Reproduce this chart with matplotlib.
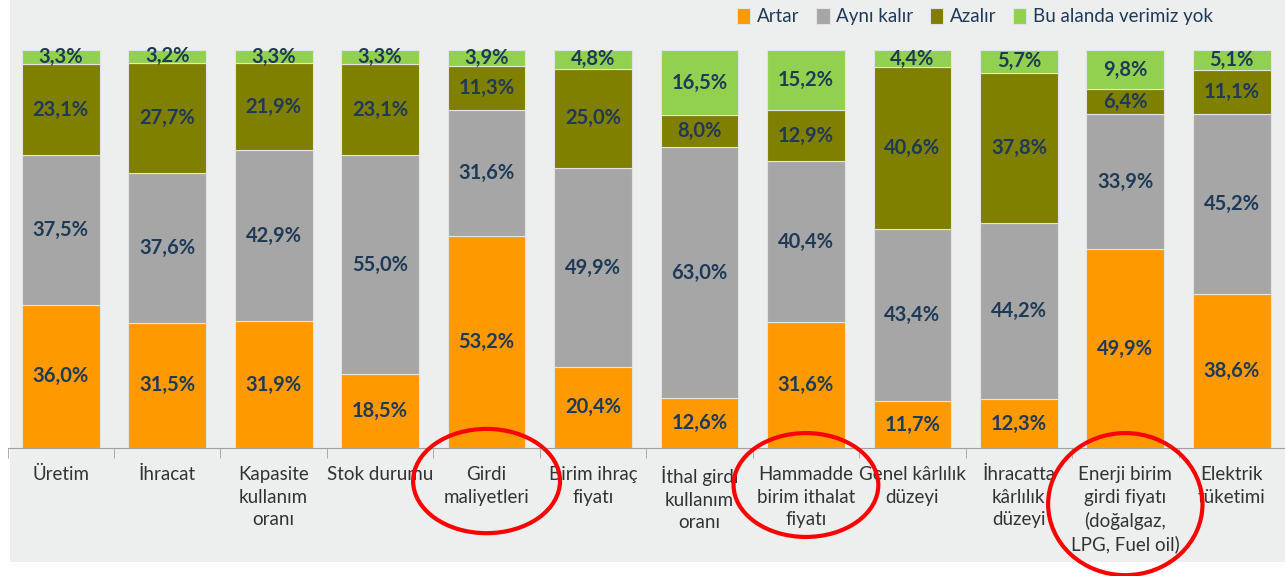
import numpy as np
import matplotlib.pyplot as plt
from matplotlib.patches import Ellipse, Rectangle

plt.rcParams['font.family'] = ['Lato', 'DejaVu Sans']

# categories and shares (%)
categories = ['Üretim', 'İhracat', 'Kapasite\nkullanım\noranı', 'Stok durumu',
              'Girdi\nmaliyetleri', 'Birim ihraç\nfiyatı', 'İthal girdi\nkullanım\noranı',
              'Hammadde\nbirim ithalat\nfiyatı', 'Genel kârlılık\ndüzeyi',
              'İhracatta\nkârlılık\ndüzeyi',
              'Enerji birim\ngirdi fiyatı\n(doğalgaz,\nLPG, Fuel oil)', 'Elektrik\ntüketimi']
artar = [36.0, 31.5, 31.9, 18.5, 53.2, 20.4, 12.6, 31.6, 11.7, 12.3, 49.9, 38.6]
ayni = [37.5, 37.6, 42.9, 55.0, 31.6, 49.9, 63.0, 40.4, 43.4, 44.2, 33.9, 45.2]
azalir = [23.1, 27.7, 21.9, 23.1, 11.3, 25.0, 8.0, 12.9, 40.6, 37.8, 6.4, 11.1]
veri_yok = [3.3, 3.2, 3.3, 3.3, 3.9, 4.8, 16.5, 15.2, 4.4, 5.7, 9.8, 5.1]

series = [('Artar', artar, '#FF9900'),
          ('Aynı kalır', ayni, '#A6A6A6'),
          ('Azalır', azalir, '#7F7F00'),
          ('Bu alanda verimiz yok', veri_yok, '#92D050')]

# categories to circle in red: (index, y-centre, width, height)
highlights = [(4, -8.3, 1.38, 26.2), (7, -9.3, 1.36, 26.1), (10, -14.1, 1.45, 35.7)]

txt_col = '#1F3A56'
bg = '#EDEEEE'

fig = plt.figure(figsize=(12.85, 5.76), dpi=100)
fig.patch.set_facecolor('white')
fig.add_artist(Rectangle((10 / 1285, 14 / 576), 1, 1, transform=fig.transFigure,
                         facecolor=bg, edgecolor='none', zorder=0))

ax = fig.add_axes([7.5 / 1285, 128 / 576, 1277.5 / 1285, 398 / 576])
ax.set_facecolor('none')

x = np.arange(len(categories))
bottom = np.zeros(len(categories))
handles = []
for name, vals, col in series:
    bars = ax.bar(x, vals, 0.73, bottom=bottom, color=col, edgecolor='#E2E4E4',
                  linewidth=0.8, label=name)
    ax.bar_label(bars, labels=[f'{v:.1f}%'.replace('.', ',') for v in vals],
                 label_type='center', color=txt_col, fontsize=14.5, fontweight='bold')
    bottom += np.array(vals)
    handles.append(bars)

ax.set_xlim(-0.5, 11.45)
ax.set_ylim(0, 100)
ax.set_yticks([])
for s in ['top', 'right', 'left']:
    ax.spines[s].set_visible(False)
ax.spines['bottom'].set_color('#A0A0A0')

ax.set_xticks(x, categories, fontsize=13.5, color='#333333', linespacing=1.4)
ax.tick_params(axis='x', which='major', length=0, pad=13)
ax.set_xticks(np.arange(-0.5, 12, 1), minor=True)
ax.tick_params(axis='x', which='minor', length=7, color='#A0A0A0', direction='out')

for i, yc, w, h in highlights:
    ax.add_patch(Ellipse((i, yc), w, h, fill=False, edgecolor='#FF0000', lw=3,
                         clip_on=False, zorder=5))

leg = fig.legend(handles=handles, loc='upper right', bbox_to_anchor=(0.957, 1.015), ncol=4,
                 frameon=False, fontsize=13.5, handlelength=0.7, handleheight=0.9,
                 handletextpad=0.35, columnspacing=0.9)
for t in leg.get_texts():
    t.set_color(txt_col)

fig.savefig('out.png', dpi=100)
